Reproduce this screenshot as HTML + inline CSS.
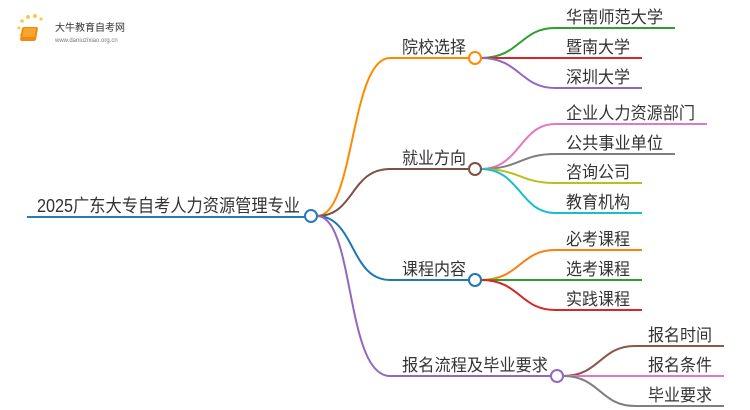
<!DOCTYPE html>
<html><head><meta charset="utf-8"><style>
html,body{margin:0;padding:0;background:#fff;}
svg{display:block;}
text{font-family:"Liberation Sans","Noto Sans CJK SC",sans-serif;fill:#333;}
</style></head><body>
<svg width="750" height="410" viewBox="0 0 750 410" xmlns="http://www.w3.org/2000/svg">
<g>
<circle cx="19" cy="28" r="1.5" fill="#f9c94a"/>
<circle cx="22" cy="21" r="1.8" fill="#f9c94a"/>
<circle cx="28" cy="17" r="2" fill="#f9c94a"/>
<circle cx="35" cy="16" r="2" fill="#f9c94a"/>
<circle cx="41" cy="19" r="1.6" fill="#f9c94a"/>
<circle cx="21" cy="35" r="1.3" fill="#f9c94a"/>
<rect x="27" y="27" width="16" height="14" rx="2" fill="#f08a10" transform="skewX(-10)"/>
<rect x="29" y="28" width="12" height="9" fill="#f7a531" transform="skewX(-10)"/>
<text x="55" y="31" font-size="10" style="fill:#333">大牛教育自考网</text>
<text x="55" y="42" font-size="6" style="fill:#777">www.daniuzixiao.org.cn</text>
</g>
<g fill="none" stroke-width="2">
<path d="M27 217 H305" stroke="#2a7ab9"/>
<path d="M317 216 C355 216 350 58 390 58 H469" stroke="#ff8a00"/>
<path d="M317 216 C355 216 350 169 390 169 H469" stroke="#7b5143"/>
<path d="M317 216 C355 216 350 280 390 280 H469" stroke="#1f77b4"/>
<path d="M317 216 C355 216 345 376 390 376 H551" stroke="#9467bd"/>
<path d="M481 58 C520 58 520 28 555 28 H675" stroke="#2ca02c"/>
<path d="M481 58 H642" stroke="#d62728"/>
<path d="M481 58 C520 58 520 88 555 88 H642" stroke="#9467bd"/>
<path d="M481 169 C520 169 520 124 555 124 H707" stroke="#e377c2"/>
<path d="M481 169 C520 169 520 154 555 154 H675" stroke="#7f7f7f"/>
<path d="M481 169 C520 169 520 183 555 183 H642" stroke="#bcbd22"/>
<path d="M481 169 C520 169 520 213 555 213 H642" stroke="#17becf"/>
<path d="M481 280 C520 280 520 250 555 250 H642" stroke="#ff7f0e"/>
<path d="M481 280 H642" stroke="#2ca02c"/>
<path d="M481 280 C520 280 520 310 555 310 H642" stroke="#d62728"/>
<path d="M563 376 C600 376 600 346 635 346 H724" stroke="#8c564b"/>
<path d="M563 376 H724" stroke="#e377c2"/>
<path d="M563 376 C600 376 600 406 635 406 H724" stroke="#7f7f7f"/>
</g>
<g fill="#fff" stroke-width="2">
<circle cx="311" cy="216" r="6" stroke="#2a7ab9"/>
<circle cx="475" cy="58" r="6" stroke="#ff8a00"/>
<circle cx="475" cy="169" r="6" stroke="#7b5143"/>
<circle cx="475" cy="280" r="6" stroke="#1f77b4"/>
<circle cx="557" cy="376" r="6" stroke="#9467bd"/>
</g>
<g font-size="18"><text x="37" y="212" textLength="263" lengthAdjust="spacingAndGlyphs">2025广东大专自考人力资源管理专业</text></g>
<g font-size="17" lengthAdjust="spacingAndGlyphs">
<text x="402" y="53" textLength="64" lengthAdjust="spacingAndGlyphs">院校选择</text>
<text x="402" y="164" textLength="64" lengthAdjust="spacingAndGlyphs">就业方向</text>
<text x="402" y="275" textLength="64" lengthAdjust="spacingAndGlyphs">课程内容</text>
<text x="402" y="371" textLength="146" lengthAdjust="spacingAndGlyphs">报名流程及毕业要求</text>
<text x="566" y="23" textLength="97" lengthAdjust="spacingAndGlyphs">华南师范大学</text>
<text x="566" y="53" textLength="64" lengthAdjust="spacingAndGlyphs">暨南大学</text>
<text x="566" y="83" textLength="64" lengthAdjust="spacingAndGlyphs">深圳大学</text>
<text x="566" y="119" textLength="129" lengthAdjust="spacingAndGlyphs">企业人力资源部门</text>
<text x="566" y="149" textLength="97" lengthAdjust="spacingAndGlyphs">公共事业单位</text>
<text x="566" y="178" textLength="64" lengthAdjust="spacingAndGlyphs">咨询公司</text>
<text x="566" y="208" textLength="64" lengthAdjust="spacingAndGlyphs">教育机构</text>
<text x="566" y="245" textLength="64" lengthAdjust="spacingAndGlyphs">必考课程</text>
<text x="566" y="275" textLength="64" lengthAdjust="spacingAndGlyphs">选考课程</text>
<text x="566" y="305" textLength="64" lengthAdjust="spacingAndGlyphs">实践课程</text>
<text x="648" y="341" textLength="64" lengthAdjust="spacingAndGlyphs">报名时间</text>
<text x="648" y="371" textLength="64" lengthAdjust="spacingAndGlyphs">报名条件</text>
<text x="648" y="401" textLength="64" lengthAdjust="spacingAndGlyphs">毕业要求</text>
</g>
</svg>
</body></html>
